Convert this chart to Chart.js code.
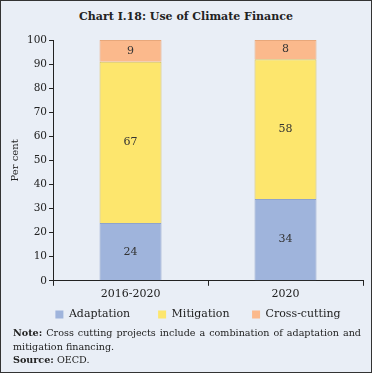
<!DOCTYPE html>
<html>
<head>
<meta charset="utf-8">
<script src="https://cdn.jsdelivr.net/npm/chart.js@4"></script>
<style>
  html, body { margin: 0; padding: 0; background: #fff; }
  #frame {
    position: relative; width: 370px; height: 371px;
    border: 1px solid #333; background: #e9eef6;
    font-family: "DejaVu Serif", serif; color: #222;
  }
  #title {
    position: absolute; left: 0; top: 9px; width: 370px; text-align: center;
    font-weight: bold; font-size: 11px;
  }
  #wrap { position: absolute; left: 0; top: 26px; width: 370px; height: 303px; }
  #note {
    position: absolute; left: 12px; top: 325px; width: 348px;
    font-size: 9.6px; line-height: 13.5px; text-align: justify;
  }
</style>
</head>
<body>
<div id="frame">
  <div id="title">Chart I.18: Use of Climate Finance</div>
  <div id="wrap"><canvas id="chart"></canvas></div>
  <div id="note">
    <b>Note:</b> Cross cutting projects include a combination of adaptation and mitigation financing.<br>
    <b>Source:</b> OECD.
  </div>
</div>
<script>
const categories = ['2016-2020', '2020'];
const adaptation = [24, 34];
const mitigation = [67, 58];
const crossCutting = [9, 8];
const yTicks = [0, 10, 20, 30, 40, 50, 60, 70, 80, 90, 100];

const serif = '"DejaVu Serif", serif';
// extra space after legend texts to spread the items out
const legendGap = ['\u2003\u2003', '\u2003\u2002', ''];

// draws value in the middle of each stacked piece
const valueLabels = {
  id: 'valueLabels',
  afterDatasetsDraw(chart) {
    const c = chart.ctx;
    c.save();
    c.font = '11px ' + serif;
    c.fillStyle = '#333';
    c.textAlign = 'center';
    c.textBaseline = 'middle';
    chart.data.datasets.forEach((ds, i) => {
      chart.getDatasetMeta(i).data.forEach((bar, j) => {
        const mid = (bar.y + bar.base) / 2;
        c.fillText(ds.data[j], bar.x, mid);
      });
    });
    c.restore();
  }
};

// legend sits a bit right of the canvas centre
const nudgeLegend = {
  id: 'nudgeLegend',
  afterLayout(chart) {
    chart.legend.left += 14;
    chart.legend.right += 14;
  }
};

const ctx = document.getElementById('chart').getContext('2d');
new Chart(ctx, {
  type: 'bar',
  data: {
    labels: categories,
    datasets: [
      { label: 'Adaptation', data: adaptation, backgroundColor: '#9fb4dc', borderColor: '#8ea3cb', borderWidth: 1 },
      { label: 'Mitigation', data: mitigation, backgroundColor: '#fde66d', borderColor: '#d8c25a', borderWidth: 1 },
      { label: 'Cross-cutting', data: crossCutting, backgroundColor: '#fbb98c', borderColor: '#e8a77a', borderWidth: 1 }
    ]
  },
  options: {
    responsive: true,
    maintainAspectRatio: false,
    animation: false,
    layout: { padding: { top: 13, right: 8, left: 4, bottom: 0 } },
    datasets: { bar: { categoryPercentage: 0.8, barPercentage: 0.5 } },
    plugins: {
      tooltip: { enabled: false },
      legend: {
        position: 'bottom',
        labels: {
          boxWidth: 8, boxHeight: 8, padding: 6,
          color: '#222', font: { family: serif, size: 11 },
          generateLabels(chart) {
            return chart.data.datasets.map((ds, i) => ({
              text: ds.label + legendGap[i],
              fillStyle: ds.backgroundColor,
              strokeStyle: ds.backgroundColor,
              lineWidth: 0,
              fontColor: '#222',
              datasetIndex: i
            }));
          }
        }
      }
    },
    scales: {
      x: {
        stacked: true,
        border: { color: '#222', width: 1 },
        grid: { offset: true, drawOnChartArea: false, tickLength: 5, color: '#222' },
        ticks: { color: '#222', font: { family: serif, size: 11 }, padding: 2 }
      },
      y: {
        stacked: true,
        min: 0, max: 100,
        afterBuildTicks: (axis) => { axis.ticks = yTicks.map(v => ({ value: v })); },
        border: { color: '#222', width: 1 },
        grid: { drawOnChartArea: false, tickLength: 4, color: '#222' },
        ticks: { color: '#222', font: { family: serif, size: 10.5 }, padding: 2 },
        title: { display: true, text: 'Per cent', color: '#222', font: { family: serif, size: 10 } }
      }
    }
  },
  plugins: [valueLabels, nudgeLegend]
});
</script>
</body>
</html>
